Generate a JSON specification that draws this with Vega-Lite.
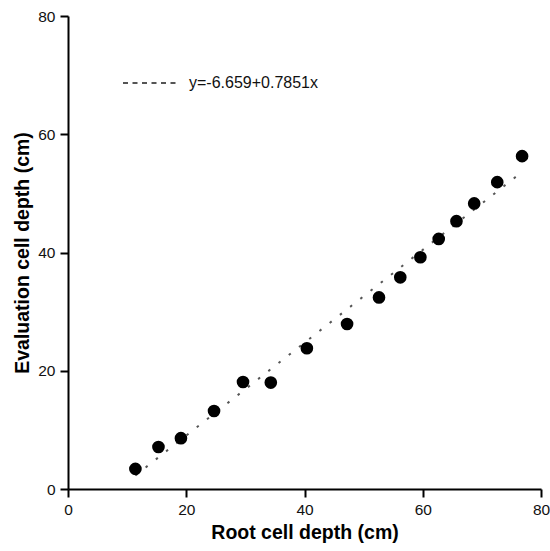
{
  "$schema": "https://vega.github.io/schema/vega-lite/v6.json",
  "width": 473,
  "height": 473,
  "autosize": {"type": "none"},
  "padding": {"left": 68, "top": 16, "right": 9, "bottom": 62},
  "background": "white",
  "config": {
    "view": {"stroke": null},
    "font": "Liberation Sans",
    "axis": {
      "grid": false,
      "domainColor": "black",
      "domainWidth": 2,
      "tickColor": "black",
      "tickWidth": 2,
      "tickSize": 8,
      "labelFont": "Liberation Sans",
      "labelFontSize": 15.5,
      "labelColor": "#111111",
      "labelPadding": 5,
      "labelFlush": false,
      "labelOverlap": false,
      "titleFont": "Liberation Sans",
      "titleFontSize": 19.5,
      "titleFontWeight": "bold",
      "titleColor": "black"
    }
  },
  "datasets": {
    "points": [
      {"root": 11.4, "eval": 3.4},
      {"root": 15.3, "eval": 7.1},
      {"root": 19.1, "eval": 8.6},
      {"root": 24.7, "eval": 13.2},
      {"root": 29.6, "eval": 18.1},
      {"root": 34.3, "eval": 18.0},
      {"root": 40.4, "eval": 23.8},
      {"root": 47.2, "eval": 27.9},
      {"root": 52.6, "eval": 32.4},
      {"root": 56.2, "eval": 35.8},
      {"root": 59.6, "eval": 39.2},
      {"root": 62.7, "eval": 42.3},
      {"root": 65.7, "eval": 45.3},
      {"root": 68.7, "eval": 48.3},
      {"root": 72.6, "eval": 51.9},
      {"root": 76.8, "eval": 56.3}
    ],
    "fit": [
      {"root": 11.4, "eval": 2.291, "series": "y=-6.659+0.7851x"},
      {"root": 76.8, "eval": 53.637, "series": "y=-6.659+0.7851x"}
    ]
  },
  "layer": [
    {
      "data": {"name": "fit"},
      "mark": {"type": "line", "strokeWidth": 2, "strokeDash": [2.5, 10.5]},
      "encoding": {
        "x": {"field": "root", "type": "quantitative", "scale": {"domain": [0, 80]}, "axis": {"values": [0, 20, 40, 60, 80], "title": "Root cell depth (cm)", "titlePadding": 6}},
        "y": {"field": "eval", "type": "quantitative", "scale": {"domain": [0, 80]}, "axis": {"values": [0, 20, 40, 60, 80], "title": "Evaluation cell depth (cm)", "titlePadding": 5}},
        "stroke": {
          "field": "series",
          "type": "nominal",
          "scale": {"range": ["#555555"]},
          "legend": {
            "title": null,
            "orient": "none",
            "legendX": 54,
            "legendY": 38,
            "symbolType": "stroke",
            "symbolSize": 3136,
            "symbolStrokeWidth": 2,
            "symbolDash": [5, 4.5],
            "labelFontSize": 16,
            "labelFont": "Liberation Sans",
            "labelColor": "#111111",
            "labelOffset": 9,
            "encode": {
              "symbols": {"update": {"stroke": {"value": "#111111"}, "strokeDash": {"value": [5, 4.5]}}}
            }
          }
        }
      }
    },
    {
      "data": {"name": "points"},
      "mark": {"type": "point", "filled": true, "color": "black", "opacity": 1, "size": 160},
      "encoding": {
        "x": {"field": "root", "type": "quantitative"},
        "y": {"field": "eval", "type": "quantitative"}
      }
    }
  ]
}
